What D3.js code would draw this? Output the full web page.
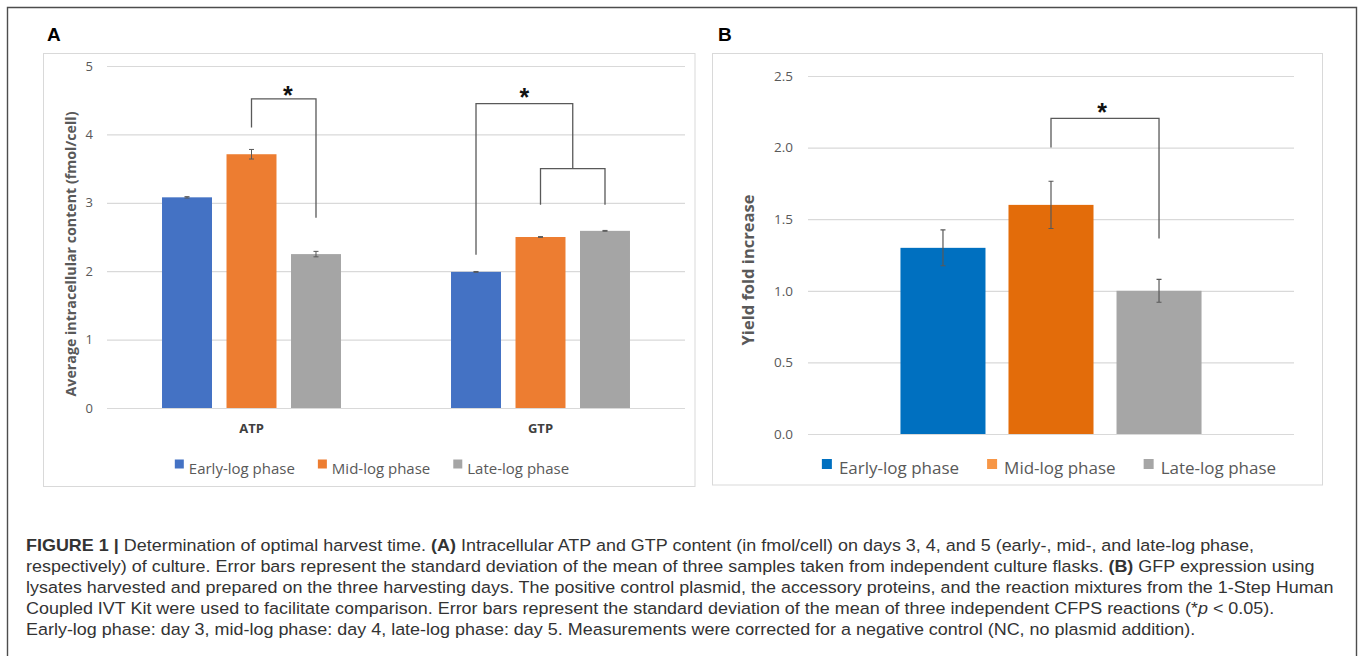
<!DOCTYPE html>
<html>
<head>
<meta charset="utf-8">
<script src="https://cdn.jsdelivr.net/npm/d3@7"></script>
<style>
body { margin: 0; background: #fff; }
svg { display: block; }
.tick line { stroke: #d9d9d9; }
.tick text { fill: #595959; font-family: "Open Sans", sans-serif; }
</style>
</head>
<body>
<svg id="fig" width="1360" height="656"></svg>
<script>
// ---------- data ----------
var phases = ["Early-log phase", "Mid-log phase", "Late-log phase"];
var nucleotides = ["ATP", "GTP"];
var atpValues = [3.08, 3.71, 2.25];
var atpErrors = [0.01, 0.07, 0.04];
var gtpValues = [1.99, 2.50, 2.59];
var gtpErrors = [0.006, 0.006, 0.006];
var yieldValues = [1.30, 1.60, 1.00];
var yieldErrors = [0.125, 0.165, 0.08];
var ticksA = [0, 1, 2, 3, 4, 5];
var ticksB = [0, 0.5, 1.0, 1.5, 2.0, 2.5];
var colorsA = ["#4472C4", "#ED7D31", "#A5A5A5"];
var colorsB = ["#0070C0", "#E36C0A", "#A6A6A6"];
var legendColorsB = ["#0070C0", "#F79646", "#A6A6A6"];

// caption, one entry per printed line: [text, style]
var caption = [
    [["FIGURE 1 | ", "b"], ["Determination of optimal harvest time. ", ""], ["(A)", "b"], [" Intracellular ATP and GTP content (in fmol/cell) on days 3, 4, and 5 (early-, mid-, and late-log phase,", ""]],
    [["respectively) of culture. Error bars represent the standard deviation of the mean of three samples taken from independent culture flasks. ", ""], ["(B)", "b"], [" GFP expression using", ""]],
    [["lysates harvested and prepared on the three harvesting days. The positive control plasmid, the accessory proteins, and the reaction mixtures from the 1-Step Human", ""]],
    [["Coupled IVT Kit were used to facilitate comparison. Error bars represent the standard deviation of the mean of three independent CFPS reactions (*", ""], ["p", "i"], [" < 0.05).", ""]],
    [["Early-log phase: day 3, mid-log phase: day 4, late-log phase: day 5. Measurements were corrected for a negative control (NC, no plasmid addition).", ""]]
];

var svg = d3.select("#fig");

// outer frame (open at the bottom, cut by the picture edge)
svg.append("path")
    .attr("d", "M7.5,660 V7.5 H1356.5 V660")
    .attr("fill", "none").attr("stroke", "#4d4d4d").attr("stroke-width", 1.4);

// fit a text node to a target length by changing its font size
function fitText(sel, target) {
    var fs = +sel.attr("font-size");
    sel.attr("font-size", fs * target / sel.node().getComputedTextLength());
}

// ================= panel A =================
svg.append("rect").attr("x", 43.5).attr("y", 53.5).attr("width", 651.5).attr("height", 433)
    .attr("fill", "#fff").attr("stroke", "#d9d9d9");
svg.append("text").attr("x", 47).attr("y", 41).text("A")
    .attr("font-family", "Liberation Sans, Arial, sans-serif").attr("font-weight", "bold").attr("font-size", 19);

var yA = d3.scaleLinear().domain([0, 5]).range([408, 66]);
var xGroup = d3.scaleBand().domain(nucleotides).range([107, 685]);
var xPhaseA = d3.scaleBand().domain(phases).range([0, xGroup.bandwidth()])
    .paddingInner(0.225).paddingOuter(0.853);

var axA = svg.append("g").attr("transform", "translate(107,0)")
    .call(d3.axisLeft(yA).tickValues(ticksA).tickSize(-578).tickPadding(14).tickFormat(d3.format("d")));
axA.select(".domain").remove();
axA.selectAll(".tick text").attr("font-size", 13);
axA.selectAll(".tick line").attr("stroke-width", 1.2);

var rowsA = [];
nucleotides.forEach(function (n) {
    var vals = n === "ATP" ? atpValues : gtpValues;
    var errs = n === "ATP" ? atpErrors : gtpErrors;
    phases.forEach(function (p, i) {
        rowsA.push({group: n, phase: p, i: i, value: vals[i], err: errs[i]});
    });
});
function cxA(g, p) { return xGroup(g) + xPhaseA(p) + xPhaseA.bandwidth() / 2; }

svg.append("g").selectAll("rect").data(rowsA).enter().append("rect")
    .attr("x", d => xGroup(d.group) + xPhaseA(d.phase))
    .attr("y", d => yA(d.value))
    .attr("width", xPhaseA.bandwidth())
    .attr("height", d => yA(0) - yA(d.value))
    .attr("fill", d => colorsA[d.i]);

var ebA = svg.append("g").attr("stroke", "#595959").attr("stroke-width", 1);
rowsA.forEach(function (d) {
    var cx = cxA(d.group, d.phase);
    var p = "M" + cx + "," + yA(d.value + d.err) + "V" + yA(d.value - d.err) +
        "M" + (cx - 2.5) + "," + yA(d.value + d.err) + "h5" +
        "M" + (cx - 2.5) + "," + yA(d.value - d.err) + "h5";
    ebA.append("path").attr("d", p).attr("fill", "none");
});

svg.append("g").selectAll("text").data(nucleotides).enter().append("text")
    .attr("x", d => xGroup(d) + xGroup.bandwidth() / 2).attr("y", 433)
    .attr("text-anchor", "middle").attr("fill", "#404040")
    .attr("font-family", "Open Sans, sans-serif").attr("font-weight", "bold").attr("font-size", 13)
    .text(d => d);

var titleA = svg.append("text").attr("transform", "translate(70,254) rotate(-90)")
    .attr("text-anchor", "middle").attr("dominant-baseline", "central")
    .attr("fill", "#595959").attr("font-family", "Open Sans, sans-serif")
    .attr("font-weight", "bold").attr("font-size", 13)
    .text("Average intracellular content (fmol/cell)");
fitText(titleA, 285);

// significance brackets
function bracket(x1, x2, yTop, yL, yR) {
    svg.append("path")
        .attr("d", "M" + x1 + "," + yL + "V" + yTop + "H" + x2 + "V" + yR)
        .attr("fill", "none").attr("stroke", "#595959").attr("stroke-width", 1.3);
}
function star(x, yCenter) {
    svg.append("text").attr("x", x).attr("y", yCenter + 13).attr("text-anchor", "middle")
        .attr("font-family", "Liberation Sans, Arial, sans-serif").attr("font-weight", "bold")
        .attr("font-size", 25).attr("fill", "#111").text("*");
}
var bAtpL = cxA("ATP", phases[1]), bAtpR = cxA("ATP", phases[2]);
bracket(bAtpL, bAtpR, yA(4.52), yA(4.10), yA(2.78));
star((bAtpL + bAtpR) / 2 + 4, yA(4.63));

var gInL = cxA("GTP", phases[1]), gInR = cxA("GTP", phases[2]);
bracket(gInL, gInR, yA(3.50), yA(2.97), yA(2.97));
var gOutL = cxA("GTP", phases[0]), gOutR = (gInL + gInR) / 2;
bracket(gOutL, gOutR, yA(4.45), yA(2.24), yA(3.50));
star((gOutL + gOutR) / 2, yA(4.60));

// legend helper
function legend(cx, y, colors, size, sq, gap, spacing) {
    var g = svg.append("g");
    var items = phases.map(function (p, i) {
        var t = g.append("text").attr("y", y).attr("fill", "#595959")
            .attr("font-family", "Open Sans, sans-serif").attr("font-size", size).text(p);
        return {t: t, w: t.node().getComputedTextLength(), c: colors[i]};
    });
    var total = d3.sum(items, d => sq + gap + d.w) + spacing * (items.length - 1);
    var x = cx - total / 2;
    items.forEach(function (d) {
        g.append("rect").attr("x", x).attr("y", y - 10 - sq / 2).attr("width", sq).attr("height", sq).attr("fill", d.c);
        d.t.attr("x", x + sq + gap);
        x += sq + gap + d.w + spacing;
    });
}
legend(372, 474, colorsA, 15, 9, 5, 23);

// ================= panel B =================
svg.append("rect").attr("x", 712.5).attr("y", 53.5).attr("width", 610).attr("height", 431.5)
    .attr("fill", "#fff").attr("stroke", "#d9d9d9");
svg.append("text").attr("x", 718).attr("y", 41).text("B")
    .attr("font-family", "Liberation Sans, Arial, sans-serif").attr("font-weight", "bold").attr("font-size", 19);

var yB = d3.scaleLinear().domain([0, 2.5]).range([434, 76]);
var xB = d3.scaleBand().domain(phases).range([808, 1294]).paddingInner(0.213).paddingOuter(0.856);

var axB = svg.append("g").attr("transform", "translate(808,0)")
    .call(d3.axisLeft(yB).tickValues(ticksB).tickSize(-486).tickPadding(15).tickFormat(d3.format(".1f")));
axB.select(".domain").remove();
axB.selectAll(".tick text").attr("font-size", 13.5);
axB.selectAll(".tick line").attr("stroke-width", 1.2);

var rowsB = phases.map((p, i) => ({phase: p, i: i, value: yieldValues[i], err: yieldErrors[i]}));
svg.append("g").selectAll("rect").data(rowsB).enter().append("rect")
    .attr("x", d => xB(d.phase)).attr("y", d => yB(d.value))
    .attr("width", xB.bandwidth()).attr("height", d => yB(0) - yB(d.value))
    .attr("fill", d => colorsB[d.i]);

var ebB = svg.append("g").attr("stroke", "#595959").attr("stroke-width", 1.2);
rowsB.forEach(function (d) {
    var cx = xB(d.phase) + xB.bandwidth() / 2;
    ebB.append("path").attr("fill", "none").attr("d",
        "M" + cx + "," + yB(d.value + d.err) + "V" + yB(d.value - d.err) +
        "M" + (cx - 2.5) + "," + yB(d.value + d.err) + "h5" +
        "M" + (cx - 2.5) + "," + yB(d.value - d.err) + "h5");
});

var titleB = svg.append("text").attr("transform", "translate(747,270) rotate(-90)")
    .attr("text-anchor", "middle").attr("dominant-baseline", "central")
    .attr("fill", "#595959").attr("font-family", "Open Sans, sans-serif")
    .attr("font-weight", "bold").attr("font-size", 15)
    .text("Yield fold increase");
fitText(titleB, 151);

var bL = xB(phases[1]) + xB.bandwidth() / 2, bR = xB(phases[2]) + xB.bandwidth() / 2;
bracket(bL, bR, yB(2.204), yB(2.0), yB(1.365));
star((bL + bR) / 2 - 3, yB(2.28));

legend(1049, 474, legendColorsB, 17, 10, 7, 28);

// ================= caption =================
// condensed look: Liberation Sans squeezed horizontally so line 4 ends where it does
var cap = svg.append("g").attr("fill", "#333")
    .attr("font-family", "Liberation Sans, Arial, sans-serif");
var capLines = caption.map(function (line, k) {
    var t = cap.append("text").attr("x", 0).attr("y", 551 + k * 21).attr("font-size", 16.5);
    line.forEach(function (seg) {
        var s = t.append("tspan").text(seg[0]);
        if (seg[1] === "b") s.attr("font-weight", "bold");
        if (seg[1] === "i") s.attr("font-style", "italic");
    });
    return t;
});
var sx = 1249 / capLines[3].node().getComputedTextLength();
cap.attr("transform", "translate(26,0) scale(" + sx + ",1)");
</script>
</body>
</html>
